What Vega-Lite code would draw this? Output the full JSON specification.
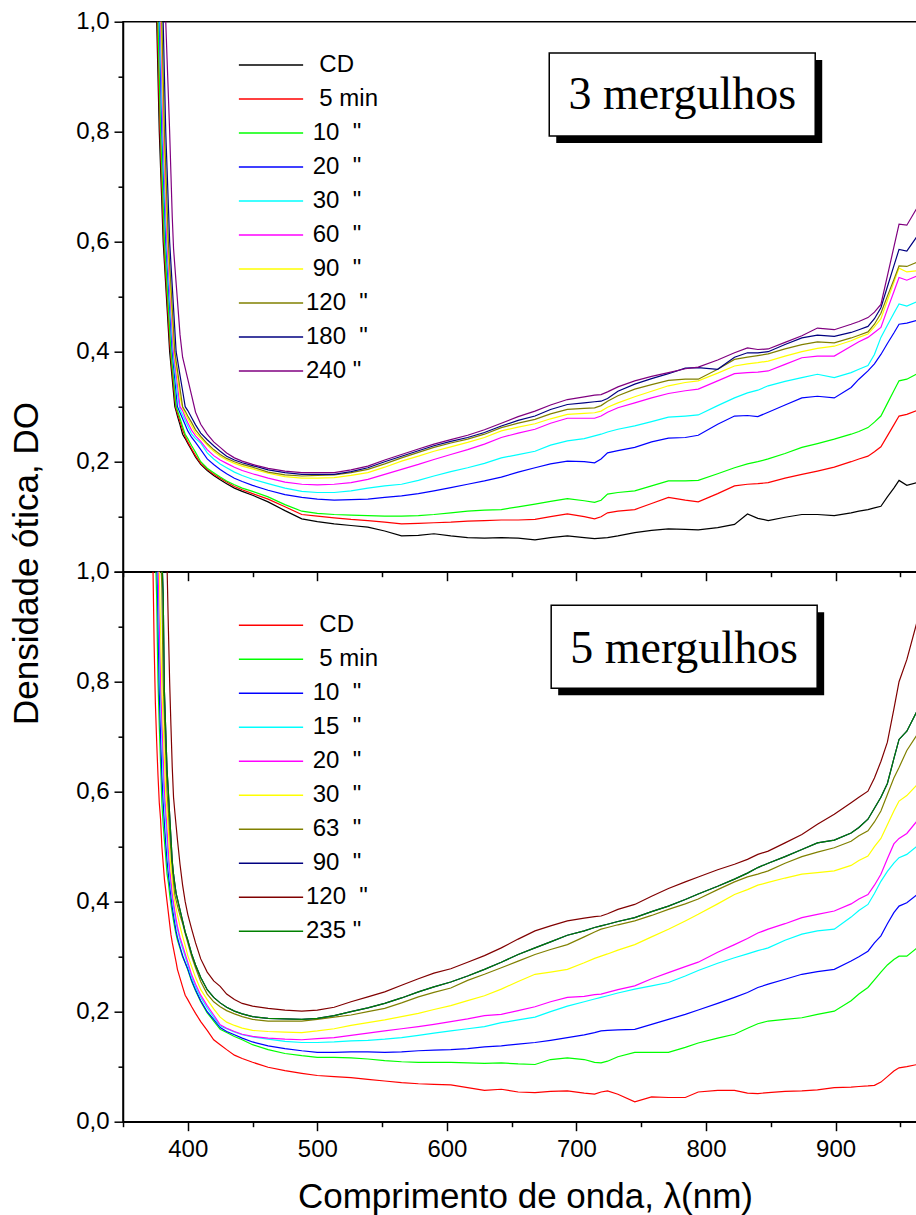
{
"$schema": "https://vega.github.io/schema/vega-lite/v6.json",
"padding": {"left": 8, "top": 8.7, "right": 0, "bottom": 5},
"config": {
 "font": "Liberation Sans",
 "view": {"stroke": "black", "strokeWidth": 1.5},
 "axis": {"grid": false, "domainColor": "black", "domainWidth": 1.5, "tickColor": "black", "tickWidth": 1.5, "labelColor": "black", "labelFont": "Liberation Sans", "labelFontSize": 24, "titleColor": "black", "titleFont": "Liberation Sans", "titleFontSize": 35, "titleFontWeight": "normal", "labelOverlap": false, "labelBound": false, "labelFlush": false},
 "legend": {"orient": "none", "title": null, "symbolType": "M-4,0H4", "symbolSize": 258, "symbolStrokeWidth": 1.5, "labelFont": "Liberation Sans", "labelFontSize": 24, "labelColor": "black", "labelOffset": 23, "rowPadding": 10, "padding": 0, "labelLimit": 0}
},
"datasets": {
"top": [
{"x":370,"a":1.75,"b":1.8,"c":1.85,"d":1.9,"e":1.95,"f":2.0,"g":2.0,"h":2.05,"i":2.1,"j":2.2},
{"x":372,"a":1.5,"b":1.55,"c":1.6,"d":1.65,"e":1.7,"f":1.75,"g":1.75,"h":1.8,"i":1.85,"j":1.95},
{"x":373,"a":1.37,"b":1.42,"c":1.47,"d":1.52,"e":1.57,"f":1.6,"g":1.62,"h":1.67,"i":1.72,"j":1.82},
{"x":374,"a":1.25,"b":1.3,"c":1.35,"d":1.4,"e":1.45,"f":1.5,"g":1.5,"h":1.55,"i":1.6,"j":1.7},
{"x":375,"a":1.12,"b":1.2,"c":1.25,"d":1.3,"e":1.35,"f":1.4,"g":1.42,"h":1.5,"i":1.55,"j":1.65},
{"x":376,"a":1.0,"b":1.05,"c":1.12,"d":1.2,"e":1.25,"f":1.3,"g":1.34,"h":1.4,"i":1.5,"j":1.6},
{"x":377,"a":0.9,"b":0.95,"c":1.0,"d":1.1,"e":1.15,"f":1.2,"g":1.25,"h":1.3,"i":1.4,"j":1.5},
{"x":378,"a":0.8,"b":0.85,"c":0.9,"d":1.0,"e":1.05,"f":1.1,"g":1.15,"h":1.2,"i":1.3,"j":1.4},
{"x":379,"a":0.733,"b":0.767,"c":0.8,"d":0.9,"e":0.95,"f":1.0,"g":1.05,"h":1.1,"i":1.2,"j":1.32},
{"x":380,"a":0.667,"b":0.7,"c":0.733,"d":0.8,"e":0.85,"f":0.9,"g":0.95,"h":1.0,"i":1.1,"j":1.25},
{"x":381,"a":0.6,"b":0.633,"c":0.667,"d":0.733,"e":0.767,"f":0.8,"g":0.85,"h":0.9,"i":1.0,"j":1.17},
{"x":382,"a":0.56,"b":0.58,"c":0.6,"d":0.667,"e":0.7,"f":0.733,"g":0.767,"h":0.8,"i":0.9,"j":1.08},
{"x":383,"a":0.52,"b":0.54,"c":0.56,"d":0.6,"e":0.633,"f":0.667,"g":0.7,"h":0.733,"i":0.8,"j":1.0},
{"x":384,"a":0.48,"b":0.5,"c":0.52,"d":0.56,"e":0.58,"f":0.6,"g":0.633,"h":0.667,"i":0.733,"j":0.933},
{"x":385,"a":0.44,"b":0.46,"c":0.48,"d":0.52,"e":0.54,"f":0.56,"g":0.58,"h":0.6,"i":0.667,"j":0.867},
{"x":386,"a":0.4,"b":0.42,"c":0.44,"d":0.48,"e":0.5,"f":0.52,"g":0.54,"h":0.56,"i":0.6,"j":0.8},
{"x":387,"a":0.375,"b":0.388,"c":0.4,"d":0.44,"e":0.46,"f":0.48,"g":0.5,"h":0.52,"i":0.56,"j":0.723},
{"x":388,"a":0.35,"b":0.363,"c":0.375,"d":0.4,"e":0.42,"f":0.44,"g":0.46,"h":0.48,"i":0.52,"j":0.646},
{"x":389,"a":0.325,"b":0.338,"c":0.35,"d":0.375,"e":0.389,"f":0.4,"g":0.42,"h":0.44,"i":0.48,"j":0.588},
{"x":390,"a":0.3,"b":0.313,"c":0.325,"d":0.35,"e":0.367,"f":0.38,"g":0.391,"h":0.4,"i":0.44,"j":0.556},
{"x":391,"a":0.292,"b":0.296,"c":0.3,"d":0.325,"e":0.344,"f":0.36,"g":0.373,"h":0.383,"i":0.4,"j":0.525},
{"x":392,"a":0.283,"b":0.288,"c":0.293,"d":0.3,"e":0.322,"f":0.34,"g":0.355,"h":0.367,"i":0.386,"j":0.494},
{"x":394,"a":0.267,"b":0.273,"c":0.279,"d":0.289,"e":0.295,"f":0.3,"g":0.318,"h":0.333,"i":0.357,"j":0.431},
{"x":396,"a":0.25,"b":0.258,"c":0.264,"d":0.278,"e":0.285,"f":0.293,"g":0.298,"h":0.3,"i":0.329,"j":0.39},
{"x":398,"a":0.242,"b":0.246,"c":0.25,"d":0.267,"e":0.275,"f":0.281,"g":0.287,"h":0.292,"i":0.3,"j":0.37},
{"x":400,"a":0.233,"b":0.236,"c":0.242,"d":0.256,"e":0.265,"f":0.271,"g":0.278,"h":0.283,"i":0.293,"j":0.35},
{"x":403,"a":0.221,"b":0.223,"c":0.229,"d":0.244,"e":0.25,"f":0.257,"g":0.265,"h":0.271,"i":0.28,"j":0.32},
{"x":406,"a":0.208,"b":0.211,"c":0.217,"d":0.235,"e":0.242,"f":0.247,"g":0.252,"h":0.258,"i":0.267,"j":0.29},
{"x":410,"a":0.195,"b":0.197,"c":0.2,"d":0.222,"e":0.234,"f":0.237,"g":0.243,"h":0.246,"i":0.252,"j":0.268},
{"x":415,"a":0.184,"b":0.186,"c":0.188,"d":0.205,"e":0.216,"f":0.222,"g":0.23,"h":0.233,"i":0.24,"j":0.25},
{"x":420,"a":0.175,"b":0.177,"c":0.18,"d":0.195,"e":0.205,"f":0.211,"g":0.219,"h":0.222,"i":0.229,"j":0.236},
{"x":425,"a":0.167,"b":0.17,"c":0.172,"d":0.186,"e":0.196,"f":0.203,"g":0.21,"h":0.213,"i":0.219,"j":0.226},
{"x":430,"a":0.16,"b":0.163,"c":0.165,"d":0.178,"e":0.189,"f":0.197,"g":0.203,"h":0.206,"i":0.21,"j":0.216},
{"x":436,"a":0.152,"b":0.155,"c":0.158,"d":0.17,"e":0.181,"f":0.19,"g":0.197,"h":0.2,"i":0.203,"j":0.207},
{"x":442,"a":0.146,"b":0.149,"c":0.152,"d":0.164,"e":0.175,"f":0.184,"g":0.192,"h":0.195,"i":0.198,"j":0.201},
{"x":450,"a":0.139,"b":0.142,"c":0.146,"d":0.157,"e":0.168,"f":0.178,"g":0.187,"h":0.19,"i":0.193,"j":0.195},
{"x":462,"a":0.127,"b":0.132,"c":0.136,"d":0.148,"e":0.16,"f":0.17,"g":0.179,"h":0.181,"i":0.185,"j":0.188},
{"x":475,"a":0.111,"b":0.118,"c":0.122,"d":0.14,"e":0.152,"f":0.163,"g":0.173,"h":0.176,"i":0.18,"j":0.183},
{"x":488,"a":0.096,"b":0.104,"c":0.11,"d":0.135,"e":0.146,"f":0.159,"g":0.17,"h":0.174,"i":0.177,"j":0.18},
{"x":500,"a":0.091,"b":0.101,"c":0.106,"d":0.132,"e":0.144,"f":0.158,"g":0.17,"h":0.175,"i":0.177,"j":0.18},
{"x":513,"a":0.087,"b":0.098,"c":0.104,"d":0.13,"e":0.144,"f":0.159,"g":0.171,"h":0.176,"i":0.177,"j":0.18},
{"x":526,"a":0.084,"b":0.095,"c":0.103,"d":0.131,"e":0.147,"f":0.162,"g":0.175,"h":0.18,"i":0.182,"j":0.185},
{"x":539,"a":0.081,"b":0.093,"c":0.102,"d":0.132,"e":0.152,"f":0.168,"g":0.18,"h":0.186,"i":0.189,"j":0.192},
{"x":552,"a":0.074,"b":0.09,"c":0.101,"d":0.135,"e":0.156,"f":0.177,"g":0.19,"h":0.196,"i":0.2,"j":0.203},
{"x":565,"a":0.065,"b":0.087,"c":0.101,"d":0.138,"e":0.159,"f":0.186,"g":0.201,"h":0.207,"i":0.21,"j":0.213},
{"x":578,"a":0.066,"b":0.088,"c":0.102,"d":0.142,"e":0.166,"f":0.195,"g":0.21,"h":0.217,"i":0.22,"j":0.223},
{"x":590,"a":0.069,"b":0.089,"c":0.104,"d":0.147,"e":0.174,"f":0.204,"g":0.219,"h":0.226,"i":0.229,"j":0.232},
{"x":603,"a":0.065,"b":0.09,"c":0.107,"d":0.153,"e":0.182,"f":0.213,"g":0.227,"h":0.234,"i":0.237,"j":0.24},
{"x":616,"a":0.062,"b":0.092,"c":0.11,"d":0.159,"e":0.189,"f":0.222,"g":0.235,"h":0.241,"i":0.244,"j":0.248},
{"x":629,"a":0.061,"b":0.093,"c":0.112,"d":0.165,"e":0.197,"f":0.232,"g":0.244,"h":0.25,"i":0.253,"j":0.258},
{"x":642,"a":0.062,"b":0.094,"c":0.113,"d":0.172,"e":0.207,"f":0.244,"g":0.256,"h":0.262,"i":0.265,"j":0.27},
{"x":655,"a":0.061,"b":0.094,"c":0.118,"d":0.181,"e":0.213,"f":0.252,"g":0.263,"h":0.27,"i":0.275,"j":0.282},
{"x":668,"a":0.058,"b":0.095,"c":0.123,"d":0.189,"e":0.219,"f":0.259,"g":0.269,"h":0.277,"i":0.283,"j":0.292},
{"x":680,"a":0.062,"b":0.1,"c":0.128,"d":0.196,"e":0.23,"f":0.27,"g":0.278,"h":0.287,"i":0.295,"j":0.303},
{"x":693,"a":0.065,"b":0.105,"c":0.133,"d":0.201,"e":0.238,"f":0.279,"g":0.286,"h":0.295,"i":0.304,"j":0.313},
{"x":706,"a":0.062,"b":0.1,"c":0.129,"d":0.2,"e":0.242,"f":0.279,"g":0.288,"h":0.297,"i":0.307,"j":0.318},
{"x":714,"a":0.06,"b":0.096,"c":0.126,"d":0.198,"e":0.247,"f":0.279,"g":0.289,"h":0.298,"i":0.309,"j":0.321},
{"x":719,"a":0.061,"b":0.1,"c":0.13,"d":0.205,"e":0.25,"f":0.283,"g":0.292,"h":0.302,"i":0.31,"j":0.322},
{"x":724,"a":0.062,"b":0.107,"c":0.141,"d":0.216,"e":0.254,"f":0.29,"g":0.299,"h":0.31,"i":0.315,"j":0.327},
{"x":732,"a":0.065,"b":0.11,"c":0.144,"d":0.22,"e":0.259,"f":0.298,"g":0.307,"h":0.32,"i":0.328,"j":0.336},
{"x":745,"a":0.071,"b":0.113,"c":0.147,"d":0.226,"e":0.265,"f":0.307,"g":0.318,"h":0.332,"i":0.341,"j":0.347},
{"x":758,"a":0.075,"b":0.124,"c":0.156,"d":0.236,"e":0.273,"f":0.316,"g":0.328,"h":0.34,"i":0.351,"j":0.355},
{"x":771,"a":0.078,"b":0.135,"c":0.165,"d":0.243,"e":0.281,"f":0.324,"g":0.338,"h":0.348,"i":0.36,"j":0.362},
{"x":784,"a":0.077,"b":0.13,"c":0.165,"d":0.244,"e":0.283,"f":0.329,"g":0.344,"h":0.35,"i":0.37,"j":0.369},
{"x":794,"a":0.076,"b":0.127,"c":0.166,"d":0.248,"e":0.285,"f":0.332,"g":0.347,"h":0.35,"i":0.371,"j":0.372},
{"x":809,"a":0.08,"b":0.142,"c":0.178,"d":0.268,"e":0.302,"f":0.347,"g":0.361,"h":0.368,"i":0.368,"j":0.385},
{"x":822,"a":0.086,"b":0.156,"c":0.189,"d":0.283,"e":0.316,"f":0.36,"g":0.374,"h":0.386,"i":0.39,"j":0.398},
{"x":832,"a":0.105,"b":0.159,"c":0.196,"d":0.284,"e":0.325,"f":0.362,"g":0.378,"h":0.39,"i":0.398,"j":0.407},
{"x":840,"a":0.097,"b":0.16,"c":0.2,"d":0.282,"e":0.33,"f":0.363,"g":0.38,"h":0.393,"i":0.398,"j":0.404},
{"x":848,"a":0.093,"b":0.162,"c":0.205,"d":0.29,"e":0.338,"f":0.365,"g":0.383,"h":0.396,"i":0.4,"j":0.405},
{"x":861,"a":0.099,"b":0.17,"c":0.215,"d":0.303,"e":0.346,"f":0.377,"g":0.392,"h":0.405,"i":0.413,"j":0.417},
{"x":874,"a":0.104,"b":0.177,"c":0.226,"d":0.316,"e":0.353,"f":0.389,"g":0.4,"h":0.413,"i":0.425,"j":0.429},
{"x":886,"a":0.104,"b":0.183,"c":0.233,"d":0.319,"e":0.359,"f":0.392,"g":0.406,"h":0.418,"i":0.43,"j":0.443},
{"x":899,"a":0.102,"b":0.19,"c":0.241,"d":0.316,"e":0.353,"f":0.392,"g":0.41,"h":0.416,"i":0.428,"j":0.44},
{"x":912,"a":0.107,"b":0.2,"c":0.25,"d":0.335,"e":0.362,"f":0.41,"g":0.42,"h":0.425,"i":0.435,"j":0.45},
{"x":918,"a":0.11,"b":0.205,"c":0.255,"d":0.35,"e":0.368,"f":0.418,"g":0.426,"h":0.43,"i":0.44,"j":0.455},
{"x":925,"a":0.113,"b":0.21,"c":0.262,"d":0.365,"e":0.375,"f":0.426,"g":0.432,"h":0.436,"i":0.446,"j":0.462},
{"x":930,"a":0.116,"b":0.218,"c":0.272,"d":0.378,"e":0.395,"f":0.435,"g":0.445,"h":0.45,"i":0.46,"j":0.472},
{"x":935,"a":0.119,"b":0.227,"c":0.283,"d":0.395,"e":0.426,"f":0.444,"g":0.46,"h":0.47,"i":0.48,"j":0.486},
{"x":940,"a":0.136,"b":0.247,"c":0.306,"d":0.415,"e":0.448,"f":0.477,"g":0.493,"h":0.501,"i":0.518,"j":0.538},
{"x":945,"a":0.152,"b":0.267,"c":0.329,"d":0.434,"e":0.47,"f":0.509,"g":0.526,"h":0.531,"i":0.556,"j":0.59},
{"x":949,"a":0.166,"b":0.283,"c":0.347,"d":0.45,"e":0.487,"f":0.535,"g":0.552,"h":0.556,"i":0.586,"j":0.632},
{"x":955,"a":0.157,"b":0.286,"c":0.35,"d":0.452,"e":0.483,"f":0.53,"g":0.545,"h":0.555,"i":0.583,"j":0.63},
{"x":963,"a":0.162,"b":0.293,"c":0.36,"d":0.457,"e":0.491,"f":0.538,"g":0.547,"h":0.563,"i":0.61,"j":0.662}
],
"bot": [
{"x":370,"a":1.45,"b":1.5,"c":1.5,"d":1.55,"e":1.6,"f":1.65,"g":1.7,"h":1.8,"i":2.0,"j":1.8},
{"x":372,"a":1.2,"b":1.25,"c":1.3,"d":1.35,"e":1.4,"f":1.45,"g":1.5,"h":1.6,"i":1.8,"j":1.6},
{"x":373,"a":1.03,"b":1.16,"c":1.22,"d":1.27,"e":1.3,"f":1.36,"g":1.42,"h":1.5,"i":1.7,"j":1.5},
{"x":374,"a":0.87,"b":1.1,"c":1.15,"d":1.2,"e":1.23,"f":1.28,"g":1.35,"h":1.42,"i":1.6,"j":1.42},
{"x":375,"a":0.76,"b":1.04,"c":1.1,"d":1.13,"e":1.16,"f":1.2,"g":1.27,"h":1.35,"i":1.5,"j":1.35},
{"x":376,"a":0.69,"b":0.95,"c":1.04,"d":1.07,"e":1.09,"f":1.13,"g":1.2,"h":1.28,"i":1.42,"j":1.28},
{"x":377,"a":0.63,"b":0.8,"c":0.92,"d":1.0,"e":1.03,"f":1.06,"g":1.14,"h":1.21,"i":1.34,"j":1.21},
{"x":378,"a":0.58,"b":0.72,"c":0.78,"d":0.87,"e":0.91,"f":1.0,"g":1.09,"h":1.14,"i":1.27,"j":1.14},
{"x":379,"a":0.55,"b":0.65,"c":0.7,"d":0.77,"e":0.8,"f":0.89,"g":1.04,"h":1.08,"i":1.2,"j":1.08},
{"x":380,"a":0.5,"b":0.58,"c":0.63,"d":0.7,"e":0.73,"f":0.79,"g":0.97,"h":1.03,"i":1.15,"j":1.03},
{"x":381,"a":0.47,"b":0.54,"c":0.58,"d":0.63,"e":0.665,"f":0.72,"g":0.8,"h":0.96,"i":1.11,"j":0.96},
{"x":382,"a":0.44,"b":0.51,"c":0.54,"d":0.58,"e":0.6,"f":0.66,"g":0.73,"h":0.78,"i":1.07,"j":0.78},
{"x":383,"a":0.42,"b":0.48,"c":0.505,"d":0.545,"e":0.565,"f":0.6,"g":0.665,"h":0.71,"i":1.04,"j":0.71},
{"x":384,"a":0.4,"b":0.45,"c":0.474,"d":0.51,"e":0.53,"f":0.565,"g":0.6,"h":0.64,"i":1.01,"j":0.64},
{"x":385,"a":0.38,"b":0.435,"c":0.45,"d":0.474,"e":0.49,"f":0.53,"g":0.565,"h":0.6,"i":0.9,"j":0.6},
{"x":386,"a":0.36,"b":0.413,"c":0.43,"d":0.45,"e":0.46,"f":0.49,"g":0.525,"h":0.558,"i":0.8,"j":0.558},
{"x":387,"a":0.34,"b":0.395,"c":0.41,"d":0.425,"e":0.437,"f":0.46,"g":0.49,"h":0.516,"i":0.72,"j":0.516},
{"x":388,"a":0.326,"b":0.38,"c":0.39,"d":0.405,"e":0.413,"f":0.438,"g":0.46,"h":0.474,"i":0.645,"j":0.474},
{"x":389,"a":0.314,"b":0.365,"c":0.375,"d":0.39,"e":0.398,"f":0.413,"g":0.435,"h":0.45,"i":0.59,"j":0.45},
{"x":390,"a":0.302,"b":0.352,"c":0.36,"d":0.375,"e":0.383,"f":0.4,"g":0.413,"h":0.432,"i":0.563,"j":0.432},
{"x":391,"a":0.29,"b":0.34,"c":0.346,"d":0.36,"e":0.368,"f":0.388,"g":0.403,"h":0.415,"i":0.538,"j":0.415},
{"x":392,"a":0.277,"b":0.33,"c":0.335,"d":0.35,"e":0.355,"f":0.376,"g":0.393,"h":0.405,"i":0.513,"j":0.405},
{"x":394,"a":0.261,"b":0.315,"c":0.318,"d":0.33,"e":0.335,"f":0.355,"g":0.375,"h":0.385,"i":0.468,"j":0.385},
{"x":396,"a":0.245,"b":0.3,"c":0.302,"d":0.315,"e":0.32,"f":0.337,"g":0.36,"h":0.365,"i":0.43,"j":0.365},
{"x":398,"a":0.23,"b":0.289,"c":0.289,"d":0.3,"e":0.305,"f":0.32,"g":0.342,"h":0.345,"i":0.4,"j":0.345},
{"x":400,"a":0.222,"b":0.276,"c":0.278,"d":0.285,"e":0.29,"f":0.302,"g":0.325,"h":0.33,"i":0.377,"j":0.33},
{"x":403,"a":0.209,"b":0.255,"c":0.257,"d":0.262,"e":0.267,"f":0.282,"g":0.3,"h":0.305,"i":0.35,"j":0.305},
{"x":406,"a":0.197,"b":0.238,"c":0.24,"d":0.245,"e":0.25,"f":0.262,"g":0.28,"h":0.285,"i":0.325,"j":0.285},
{"x":410,"a":0.182,"b":0.218,"c":0.22,"d":0.226,"e":0.23,"f":0.24,"g":0.255,"h":0.262,"i":0.296,"j":0.262},
{"x":415,"a":0.166,"b":0.198,"c":0.2,"d":0.207,"e":0.211,"f":0.222,"g":0.232,"h":0.24,"i":0.272,"j":0.24},
{"x":420,"a":0.149,"b":0.183,"c":0.186,"d":0.19,"e":0.194,"f":0.205,"g":0.218,"h":0.226,"i":0.256,"j":0.226},
{"x":425,"a":0.14,"b":0.168,"c":0.171,"d":0.174,"e":0.176,"f":0.19,"g":0.209,"h":0.216,"i":0.246,"j":0.216},
{"x":430,"a":0.131,"b":0.162,"c":0.164,"d":0.169,"e":0.17,"f":0.181,"g":0.202,"h":0.208,"i":0.232,"j":0.208},
{"x":436,"a":0.121,"b":0.155,"c":0.158,"d":0.163,"e":0.164,"f":0.175,"g":0.196,"h":0.201,"i":0.222,"j":0.201},
{"x":442,"a":0.115,"b":0.149,"c":0.152,"d":0.158,"e":0.159,"f":0.17,"g":0.191,"h":0.196,"i":0.215,"j":0.196},
{"x":450,"a":0.108,"b":0.14,"c":0.145,"d":0.154,"e":0.155,"f":0.166,"g":0.186,"h":0.191,"i":0.21,"j":0.191},
{"x":462,"a":0.099,"b":0.131,"c":0.138,"d":0.15,"e":0.152,"f":0.164,"g":0.183,"h":0.188,"i":0.206,"j":0.188},
{"x":475,"a":0.093,"b":0.124,"c":0.133,"d":0.146,"e":0.15,"f":0.163,"g":0.183,"h":0.187,"i":0.203,"j":0.187},
{"x":488,"a":0.088,"b":0.12,"c":0.129,"d":0.144,"e":0.149,"f":0.162,"g":0.183,"h":0.186,"i":0.201,"j":0.186},
{"x":500,"a":0.084,"b":0.117,"c":0.126,"d":0.144,"e":0.151,"f":0.165,"g":0.186,"h":0.188,"i":0.203,"j":0.188},
{"x":513,"a":0.082,"b":0.117,"c":0.126,"d":0.145,"e":0.153,"f":0.169,"g":0.19,"h":0.193,"i":0.208,"j":0.193},
{"x":526,"a":0.08,"b":0.116,"c":0.127,"d":0.147,"e":0.157,"f":0.175,"g":0.194,"h":0.2,"i":0.218,"j":0.2},
{"x":539,"a":0.077,"b":0.114,"c":0.127,"d":0.148,"e":0.161,"f":0.18,"g":0.2,"h":0.207,"i":0.227,"j":0.207},
{"x":552,"a":0.074,"b":0.111,"c":0.126,"d":0.15,"e":0.165,"f":0.185,"g":0.206,"h":0.215,"i":0.236,"j":0.215},
{"x":565,"a":0.071,"b":0.109,"c":0.127,"d":0.153,"e":0.169,"f":0.191,"g":0.216,"h":0.225,"i":0.248,"j":0.225},
{"x":578,"a":0.069,"b":0.108,"c":0.129,"d":0.157,"e":0.173,"f":0.197,"g":0.227,"h":0.236,"i":0.26,"j":0.236},
{"x":590,"a":0.068,"b":0.108,"c":0.13,"d":0.161,"e":0.177,"f":0.204,"g":0.235,"h":0.245,"i":0.27,"j":0.245},
{"x":603,"a":0.067,"b":0.108,"c":0.131,"d":0.165,"e":0.182,"f":0.211,"g":0.243,"h":0.254,"i":0.278,"j":0.254},
{"x":616,"a":0.062,"b":0.107,"c":0.133,"d":0.169,"e":0.187,"f":0.22,"g":0.257,"h":0.265,"i":0.29,"j":0.265},
{"x":629,"a":0.057,"b":0.106,"c":0.136,"d":0.173,"e":0.193,"f":0.229,"g":0.268,"h":0.277,"i":0.302,"j":0.277},
{"x":642,"a":0.059,"b":0.107,"c":0.138,"d":0.18,"e":0.195,"f":0.241,"g":0.28,"h":0.29,"i":0.316,"j":0.29},
{"x":655,"a":0.054,"b":0.105,"c":0.141,"d":0.185,"e":0.202,"f":0.255,"g":0.292,"h":0.304,"i":0.332,"j":0.304},
{"x":668,"a":0.053,"b":0.104,"c":0.144,"d":0.19,"e":0.209,"f":0.268,"g":0.304,"h":0.316,"i":0.347,"j":0.316},
{"x":680,"a":0.055,"b":0.113,"c":0.148,"d":0.2,"e":0.218,"f":0.272,"g":0.313,"h":0.327,"i":0.356,"j":0.327},
{"x":693,"a":0.056,"b":0.116,"c":0.153,"d":0.21,"e":0.226,"f":0.277,"g":0.322,"h":0.339,"i":0.365,"j":0.339},
{"x":706,"a":0.052,"b":0.113,"c":0.158,"d":0.218,"e":0.228,"f":0.289,"g":0.336,"h":0.347,"i":0.37,"j":0.347},
{"x":714,"a":0.05,"b":0.108,"c":0.162,"d":0.223,"e":0.231,"f":0.297,"g":0.345,"h":0.353,"i":0.373,"j":0.353},
{"x":719,"a":0.054,"b":0.107,"c":0.165,"d":0.226,"e":0.232,"f":0.301,"g":0.35,"h":0.356,"i":0.374,"j":0.356},
{"x":724,"a":0.056,"b":0.11,"c":0.166,"d":0.229,"e":0.235,"f":0.305,"g":0.353,"h":0.359,"i":0.378,"j":0.359},
{"x":732,"a":0.05,"b":0.118,"c":0.167,"d":0.234,"e":0.24,"f":0.312,"g":0.358,"h":0.364,"i":0.386,"j":0.364},
{"x":745,"a":0.036,"b":0.126,"c":0.168,"d":0.241,"e":0.247,"f":0.322,"g":0.365,"h":0.371,"i":0.395,"j":0.371},
{"x":758,"a":0.045,"b":0.126,"c":0.177,"d":0.247,"e":0.26,"f":0.336,"g":0.375,"h":0.382,"i":0.41,"j":0.382},
{"x":771,"a":0.044,"b":0.126,"c":0.186,"d":0.253,"e":0.271,"f":0.35,"g":0.386,"h":0.392,"i":0.424,"j":0.392},
{"x":784,"a":0.044,"b":0.135,"c":0.195,"d":0.265,"e":0.282,"f":0.365,"g":0.396,"h":0.404,"i":0.436,"j":0.404},
{"x":794,"a":0.054,"b":0.143,"c":0.203,"d":0.275,"e":0.29,"f":0.377,"g":0.405,"h":0.414,"i":0.445,"j":0.414},
{"x":809,"a":0.057,"b":0.152,"c":0.215,"d":0.288,"e":0.308,"f":0.396,"g":0.422,"h":0.428,"i":0.458,"j":0.428},
{"x":822,"a":0.057,"b":0.159,"c":0.226,"d":0.298,"e":0.322,"f":0.413,"g":0.436,"h":0.441,"i":0.468,"j":0.441},
{"x":832,"a":0.052,"b":0.17,"c":0.235,"d":0.305,"e":0.333,"f":0.422,"g":0.445,"h":0.452,"i":0.477,"j":0.452},
{"x":840,"a":0.051,"b":0.178,"c":0.244,"d":0.311,"e":0.343,"f":0.43,"g":0.45,"h":0.462,"i":0.486,"j":0.462},
{"x":848,"a":0.053,"b":0.183,"c":0.25,"d":0.316,"e":0.35,"f":0.435,"g":0.456,"h":0.47,"i":0.492,"j":0.47},
{"x":861,"a":0.055,"b":0.186,"c":0.259,"d":0.33,"e":0.36,"f":0.443,"g":0.47,"h":0.482,"i":0.507,"j":0.482},
{"x":874,"a":0.056,"b":0.189,"c":0.268,"d":0.341,"e":0.371,"f":0.45,"g":0.482,"h":0.495,"i":0.522,"j":0.495},
{"x":886,"a":0.058,"b":0.195,"c":0.273,"d":0.347,"e":0.377,"f":0.453,"g":0.49,"h":0.507,"i":0.541,"j":0.507},
{"x":899,"a":0.062,"b":0.201,"c":0.277,"d":0.35,"e":0.383,"f":0.456,"g":0.498,"h":0.512,"i":0.559,"j":0.512},
{"x":912,"a":0.063,"b":0.22,"c":0.292,"d":0.372,"e":0.396,"f":0.466,"g":0.51,"h":0.525,"i":0.58,"j":0.525},
{"x":918,"a":0.064,"b":0.232,"c":0.3,"d":0.384,"e":0.405,"f":0.475,"g":0.52,"h":0.535,"i":0.59,"j":0.535},
{"x":925,"a":0.065,"b":0.244,"c":0.31,"d":0.395,"e":0.413,"f":0.483,"g":0.529,"h":0.55,"i":0.601,"j":0.55},
{"x":930,"a":0.066,"b":0.258,"c":0.325,"d":0.415,"e":0.43,"f":0.5,"g":0.545,"h":0.57,"i":0.625,"j":0.57},
{"x":935,"a":0.072,"b":0.272,"c":0.338,"d":0.437,"e":0.45,"f":0.515,"g":0.565,"h":0.59,"i":0.655,"j":0.59},
{"x":940,"a":0.082,"b":0.285,"c":0.36,"d":0.455,"e":0.478,"f":0.54,"g":0.595,"h":0.615,"i":0.69,"j":0.615},
{"x":945,"a":0.092,"b":0.295,"c":0.38,"d":0.47,"e":0.505,"f":0.565,"g":0.625,"h":0.66,"i":0.75,"j":0.66},
{"x":949,"a":0.098,"b":0.301,"c":0.392,"d":0.48,"e":0.515,"f":0.583,"g":0.644,"h":0.695,"i":0.8,"j":0.695},
{"x":955,"a":0.1,"b":0.301,"c":0.398,"d":0.486,"e":0.524,"f":0.593,"g":0.675,"h":0.71,"i":0.84,"j":0.71},
{"x":963,"a":0.104,"b":0.316,"c":0.413,"d":0.501,"e":0.547,"f":0.613,"g":0.704,"h":0.747,"i":0.91,"j":0.747}
]
},
"spacing": 0,
"bounds": "flush",
"resolve": {"scale": {"color": "independent"}},
"vconcat": [
{
 "width": 796, "height": 550,
 "layer": [
  {
   "data": {"name": "top"},
   "transform": [{"fold": ["a","b","c","d","e","f","g","h","i","j"], "as": ["s","v"]}],
   "mark": {"type": "line", "strokeWidth": 1.2, "clip": true},
   "encoding": {
    "x": {"field": "x", "type": "quantitative", "scale": {"domain": [350, 964.4], "nice": false, "zero": false},
      "axis": {"title": null, "values": [350,400,450,500,550,600,650,700,750,800,850,900,950], "labels": false,
        "tickSize": {"condition": {"test": "datum.value % 100 == 0", "value": 9}, "value": 5}}},
    "y": {"field": "v", "type": "quantitative", "scale": {"domain": [0, 1], "nice": false, "zero": false},
      "axis": {"title": "Densidade ótica, DO", "titleAngle": 270, "titleX": -85.7, "titleY": 541.3, "titleAlign": "center", "titleBaseline": "alphabetic",
        "values": [0,0.1,0.2,0.3,0.4,0.5,0.6,0.7,0.8,0.9,1],
        "labelExpr": "datum.value > 0.05 && round(datum.value*10) % 2 == 0 ? replace(format(datum.value, '.1f'), '.', ',') : ''",
        "labelPadding": 5,
        "tickSize": {"condition": {"test": "round(datum.value*10) % 2 == 0", "value": 9}, "value": 5}}},
    "color": {"field": "s", "type": "nominal",
      "scale": {"domain": ["a","b","c","d","e","f","g","h","i","j"], "range": ["#000000","#ff0000","#00ff00","#0000ff","#00ffff","#ff00ff","#ffff00","#808000","#000080","#800080"]},
      "legend": {"legendX": 136, "legendY": 31.3,
        "labelExpr": "['\u200b\u00a0\u00a0CD','\u200b\u00a0\u00a05 min','\u200b\u00a010\u00a0\u00a0\"','\u200b\u00a020\u00a0\u00a0\"','\u200b\u00a030\u00a0\u00a0\"','\u200b\u00a060\u00a0\u00a0\"','\u200b\u00a090\u00a0\u00a0\"','120\u00a0\u00a0\"','180\u00a0\u00a0\"','240\u00a0\"'][indexof(['a','b','c','d','e','f','g','h','i','j'], datum.value)]"}}
   }
  },
  {
   "data": {"values": [{}]},
   "mark": {"type": "rect", "color": "black", "xOffset": 7, "x2Offset": 7, "yOffset": 7, "y2Offset": 7},
   "encoding": {
    "x": {"datum": 679, "type": "quantitative"},
    "x2": {"datum": 884.3},
    "y": {"datum": 0.943, "type": "quantitative"},
    "y2": {"datum": 0.792}
   }
  },
  {
   "data": {"values": [{}]},
   "mark": {"type": "rect", "fill": "white", "stroke": "black", "strokeWidth": 1.5},
   "encoding": {
    "x": {"datum": 679, "type": "quantitative"},
    "x2": {"datum": 884.3},
    "y": {"datum": 0.943, "type": "quantitative"},
    "y2": {"datum": 0.792}
   }
  },
  {
   "data": {"values": [{}]},
   "mark": {"type": "text", "text": "3 mergulhos", "font": "Liberation Serif", "fontSize": 46, "align": "center", "baseline": "alphabetic", "color": "black"},
   "encoding": {
    "x": {"datum": 781.7, "type": "quantitative"},
    "y": {"datum": 0.841, "type": "quantitative"}
   }
  }
 ]
},
{
 "width": 796, "height": 550,
 "layer": [
  {
   "data": {"name": "bot"},
   "transform": [{"fold": ["a","b","c","d","e","f","g","h","i","j"], "as": ["s","v"]}],
   "mark": {"type": "line", "strokeWidth": 1.2, "clip": true},
   "encoding": {
    "x": {"field": "x", "type": "quantitative", "scale": {"domain": [350, 964.4], "nice": false, "zero": false},
      "axis": {"title": "Comprimento de onda, λ(nm)", "titleX": 402, "titleAlign": "center", "titlePadding": 18,
        "values": [350,400,450,500,550,600,650,700,750,800,850,900,950],
        "labelExpr": "datum.value % 100 == 0 && datum.value >= 400 ? datum.label : ''",
        "labelPadding": 7,
        "tickSize": {"condition": {"test": "datum.value % 100 == 0", "value": 9}, "value": 5}}},
    "y": {"field": "v", "type": "quantitative", "scale": {"domain": [0, 1], "nice": false, "zero": false},
      "axis": {"title": null,
        "values": [0,0.1,0.2,0.3,0.4,0.5,0.6,0.7,0.8,0.9,1],
        "labelExpr": "round(datum.value*10) % 2 == 0 ? replace(format(datum.value, '.1f'), '.', ',') : ''",
        "labelPadding": 5,
        "tickSize": {"condition": {"test": "round(datum.value*10) % 2 == 0", "value": 9}, "value": 5}}},
    "color": {"field": "s", "type": "nominal",
      "scale": {"domain": ["a","b","c","d","e","f","g","h","i","j"], "range": ["#ff0000","#00ff00","#0000ff","#00ffff","#ff00ff","#ffff00","#808000","#000080","#800000","#008000"]},
      "legend": {"legendX": 136, "legendY": 41.6,
        "labelExpr": "['\u200b\u00a0\u00a0CD','\u200b\u00a0\u00a05 min','\u200b\u00a010\u00a0\u00a0\"','\u200b\u00a015\u00a0\u00a0\"','\u200b\u00a020\u00a0\u00a0\"','\u200b\u00a030\u00a0\u00a0\"','\u200b\u00a063\u00a0\u00a0\"','\u200b\u00a090\u00a0\u00a0\"','120\u00a0\u00a0\"','235\u00a0\"'][indexof(['a','b','c','d','e','f','g','h','i','j'], datum.value)]"}}
   }
  },
  {
   "data": {"values": [{}]},
   "mark": {"type": "rect", "color": "black", "xOffset": 7, "x2Offset": 7, "yOffset": 7, "y2Offset": 7},
   "encoding": {
    "x": {"datum": 680.5, "type": "quantitative"},
    "x2": {"datum": 885.8},
    "y": {"datum": 0.939, "type": "quantitative"},
    "y2": {"datum": 0.788}
   }
  },
  {
   "data": {"values": [{}]},
   "mark": {"type": "rect", "fill": "white", "stroke": "black", "strokeWidth": 1.5},
   "encoding": {
    "x": {"datum": 680.5, "type": "quantitative"},
    "x2": {"datum": 885.8},
    "y": {"datum": 0.939, "type": "quantitative"},
    "y2": {"datum": 0.788}
   }
  },
  {
   "data": {"values": [{}]},
   "mark": {"type": "text", "text": "5 mergulhos", "font": "Liberation Serif", "fontSize": 46, "align": "center", "baseline": "alphabetic", "color": "black"},
   "encoding": {
    "x": {"datum": 783.1, "type": "quantitative"},
    "y": {"datum": 0.834, "type": "quantitative"}
   }
  }
 ]
}
]
}
